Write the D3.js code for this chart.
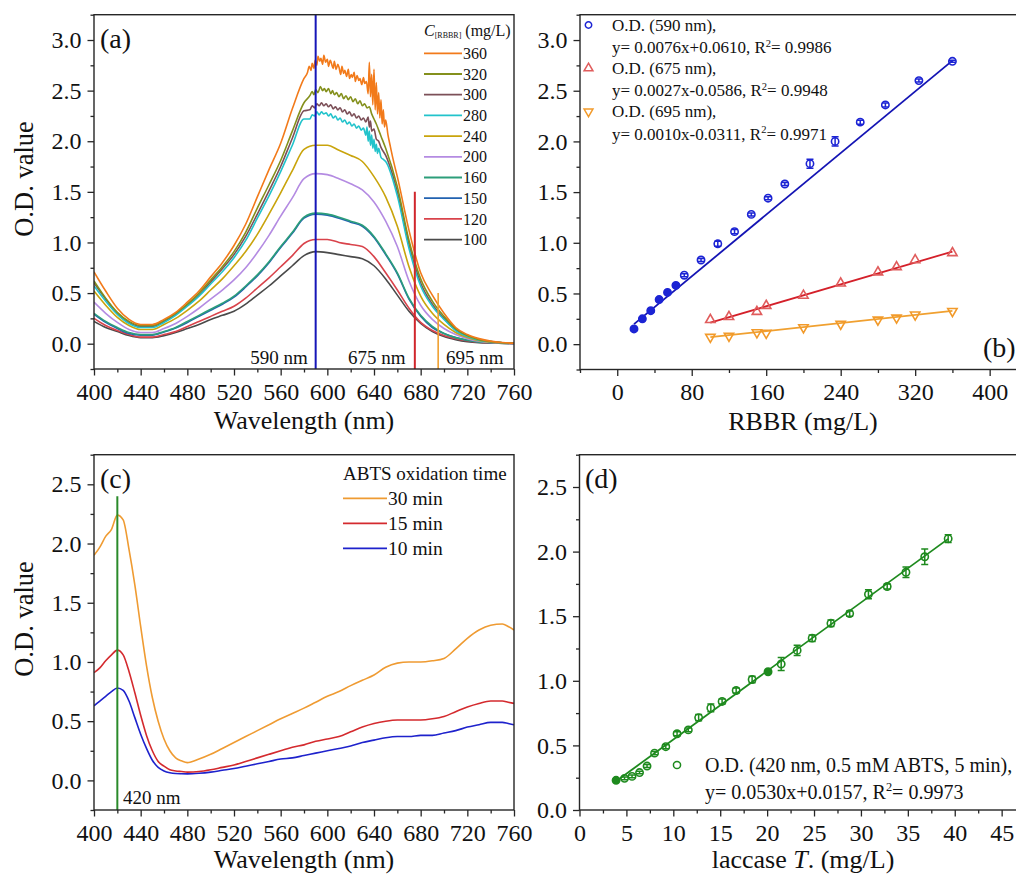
<!DOCTYPE html>
<html><head><meta charset="utf-8">
<script src="https://cdnjs.cloudflare.com/ajax/libs/d3/7.8.5/d3.min.js"></script>
<style>body{margin:0;background:#fff;} svg{display:block;}
svg text{font-family:"Liberation Serif","Times New Roman","DejaVu Serif",serif;}</style>
</head><body>
<script>
// ---------------- DATA ----------------
// Panel (a): absorbance spectra at several RBBR concentrations
const waveA = [400,410,420,430,440,450,460,470,480,490,500,510,520,530,540,550,560,570,580,590,600,610,620,630,640,650,660,670,680,690,700,710,720,730,740,750,760];
const concA = [360,320,300,280,240,200,160,150,120,100];
const od360 = [0.71,0.52,0.35,0.24,0.19,0.19,0.24,0.31,0.41,0.52, 0.66,0.80,0.97,1.18,1.45,1.72,1.98,2.32,2.62,2.78, 2.80,2.74,2.67,2.60,2.50,2.14,1.65,1.12,0.70,0.48, 0.30,0.16,0.09,0.05,0.025,0.012,0.006];
const od320 = [0.62,0.45,0.31,0.22,0.18,0.18,0.23,0.30,0.39,0.50, 0.63,0.76,0.91,1.10,1.34,1.57,1.81,2.10,2.38,2.50, 2.51,2.46,2.41,2.36,2.20,1.93,1.55,1.02,0.64,0.42, 0.27,0.15,0.08,0.04,0.02,0.01,0.005];
const od300 = [0.60,0.44,0.30,0.21,0.17,0.17,0.22,0.29,0.38,0.48, 0.61,0.74,0.88,1.06,1.28,1.51,1.75,2.03,2.30,2.36, 2.37,2.33,2.28,2.24,2.08,1.86,1.50,0.98,0.60,0.39, 0.25,0.14,0.075,0.04,0.02,0.01,0.005];
const od280 = [0.57,0.42,0.29,0.20,0.16,0.16,0.21,0.28,0.37,0.47, 0.59,0.71,0.85,1.02,1.24,1.46,1.70,1.96,2.22,2.28, 2.28,2.24,2.19,2.14,2.00,1.80,1.46,0.94,0.57,0.37, 0.24,0.13,0.07,0.035,0.02,0.01,0.005];
const od240 = [0.52,0.38,0.26,0.18,0.14,0.14,0.19,0.25,0.33,0.42, 0.53,0.64,0.77,0.91,1.08,1.28,1.49,1.71,1.92,1.96, 1.96,1.91,1.86,1.80,1.65,1.45,1.16,0.76,0.47,0.30, 0.19,0.11,0.06,0.03,0.015,0.008,0.004];
const od200 = [0.41,0.30,0.21,0.14,0.11,0.11,0.15,0.20,0.27,0.35, 0.44,0.53,0.63,0.75,0.90,1.07,1.26,1.44,1.63,1.68, 1.67,1.63,1.58,1.52,1.40,1.21,0.96,0.62,0.38,0.24, 0.15,0.09,0.05,0.025,0.012,0.006,0.003];
const od160 = [0.30,0.22,0.16,0.11,0.09,0.09,0.12,0.16,0.22,0.28, 0.34,0.40,0.47,0.57,0.68,0.81,0.96,1.10,1.25,1.29, 1.28,1.25,1.21,1.17,1.06,0.89,0.70,0.45,0.28,0.17, 0.10,0.06,0.035,0.018,0.01,0.005,0.003];
const od150 = [0.29,0.21,0.15,0.10,0.085,0.085,0.115,0.155,0.21,0.27, 0.33,0.39,0.46,0.56,0.67,0.80,0.95,1.09,1.24,1.28, 1.27,1.24,1.20,1.16,1.05,0.88,0.69,0.44,0.27,0.16, 0.10,0.06,0.034,0.017,0.01,0.005,0.003];
const od120 = [0.25,0.18,0.13,0.09,0.065,0.065,0.09,0.12,0.17,0.22, 0.27,0.32,0.37,0.45,0.55,0.65,0.76,0.87,0.99,1.03, 1.03,1.00,0.98,0.96,0.86,0.70,0.53,0.35,0.21,0.13, 0.08,0.05,0.03,0.015,0.008,0.004,0.002];
const od100 = [0.22,0.16,0.12,0.08,0.06,0.06,0.08,0.11,0.15,0.19, 0.24,0.28,0.32,0.39,0.48,0.57,0.67,0.77,0.87,0.91, 0.90,0.88,0.86,0.84,0.77,0.64,0.48,0.32,0.20,0.12, 0.07,0.04,0.02,0.01,0.006,0.003,0.001];
// noisy stretches ([wavelength, O.D.])
const jag360 = [[583,2.68],[584.5,2.74],[586,2.70],[587,2.77],[588.5,2.72],[589.5,2.80],[591,2.75],[592,2.84],[593.5,2.79],[594.5,2.82],[596,2.76],[597,2.85],[598.5,2.78],[600,2.81],[601,2.74],[602.5,2.80],[603.5,2.77],[605,2.72],[606,2.79],[607.5,2.71],[609,2.76],[610,2.73],[611.5,2.66],[612.5,2.74],[614,2.67],[615,2.70],[616.5,2.64],[618,2.71],[619,2.62],[620.5,2.66],[621.5,2.63],[623,2.68],[624,2.59],[625.5,2.65],[627,2.60],[628,2.62],[629.5,2.56],[631,2.63],[632,2.57],[633.5,2.59],[635,2.47],[636,2.78],[637,2.44],[638,2.66],[639,2.36],[640,2.71],[641,2.31],[642,2.58],[643,2.27],[644,2.48],[645,2.23],[646,2.41],[647,2.17],[648,2.31],[649,2.14],[650,2.21],[652,2.06],[654,1.95],[656,1.84]];
const jag320 = [[585,2.45],[587,2.49],[588.5,2.46],[590,2.51],[592,2.48],[594,2.54],[596,2.50],[597.5,2.52],[599,2.49],[601,2.52],[603,2.47],[604.5,2.50],[606,2.46],[608,2.48],[610,2.44],[612,2.47],[614,2.42],[616,2.45],[618,2.41],[620,2.44],[622,2.39],[624,2.42],[626,2.37],[628,2.40],[630,2.35],[632,2.37],[634,2.33],[636,2.34],[638,2.27],[640,2.22],[642,2.17],[644,2.11],[646,2.05]];
const jag300 = [[585,2.31],[587,2.35],[589,2.33],[591,2.37],[593,2.35],[595,2.38],[597,2.35],[599,2.37],[601,2.34],[603,2.36],[605,2.32],[607,2.34],[609,2.31],[611,2.33],[613,2.29],[615,2.31],[617,2.27],[619,2.29],[621,2.25],[623,2.27],[625,2.23],[627,2.25],[629,2.21],[631,2.23],[633,2.19],[635,2.24],[636,2.14],[637,2.20],[638,2.10],[640,2.12],[642,2.02],[644,2.00],[646,1.94]];
const jag280 = [[585,2.22],[587,2.26],[589,2.25],[591,2.29],[593,2.26],[595,2.29],[597,2.27],[599,2.28],[601,2.25],[603,2.27],[605,2.23],[607,2.25],[609,2.21],[611,2.23],[613,2.19],[615,2.21],[617,2.17],[619,2.19],[621,2.15],[623,2.17],[625,2.13],[627,2.15],[629,2.11],[631,2.13],[633,2.06],[634,2.14],[635,2.00],[636,2.10],[637,1.96],[638,2.06],[639,1.93],[640,2.02],[641,1.90],[642,1.97],[643,1.88],[644,1.93],[646,1.84],[648,1.82]];
const markWaves = [590,675,695];
const markTops = [null,1.5,0.5];

// Panel (b): O.D. vs RBBR
const conc590 = [18,27,36,45,54,63,72,90,108,126,144,162,180,207,234,261,288,324,360];
const od590 = [0.15,0.25,0.33,0.44,0.51,0.58,0.68,0.83,0.99,1.11,1.28,1.44,1.58,1.78,2.00,2.19,2.36,2.60,2.79];
const err590 = [0.015,0.015,0.015,0.015,0.015,0.015,0.015,0.015,0.025,0.02,0.015,0.015,0.015,0.045,0.045,0.02,0.02,0.015,0.01];
const solid590 = 6; // first points drawn solid
const conc675 = [100,120,150,160,200,240,280,300,320,360];
const od675 = [0.24,0.27,0.32,0.38,0.48,0.60,0.71,0.76,0.83,0.90];
const conc695 = [100,120,150,160,200,240,280,300,320,360];
const od695 = [0.07,0.08,0.115,0.11,0.165,0.20,0.24,0.26,0.29,0.325];
const fitSlopeB = [0.0076,0.0027,0.0010];
const fitInterceptB = [0.0610,-0.0586,-0.0311];
const legendB = [["O.D. (590 nm),","y= 0.0076x+0.0610, R","= 0.9986"],["O.D. (675 nm),","y= 0.0027x-0.0586, R","= 0.9948"],["O.D. (695 nm),","y= 0.0010x-0.0311, R","= 0.9971"]];

// Panel (c): ABTS spectra
const waveC = [400,405,410,415,420,425,430,435,440,445,450,455,460,465,470,475,480,490,500,510,520,530,540,550,560,570,580,590,600,610,620,630,640,650,660,670,680,690,700,710,720,730,740,750,755,760];
const abts30 = [1.90,1.97,2.06,2.12,2.24,2.20,1.95,1.65,1.30,0.97,0.70,0.50,0.35,0.25,0.19,0.165,0.15,0.18,0.22,0.27,0.32,0.37,0.42,0.47,0.52,0.565,0.61,0.66,0.71,0.75,0.80,0.845,0.89,0.955,0.99,1.00,1.00,1.01,1.03,1.11,1.20,1.27,1.31,1.32,1.30,1.27];
const abts15 = [0.91,0.95,1.01,1.06,1.10,1.06,0.92,0.74,0.55,0.38,0.25,0.16,0.12,0.09,0.08,0.075,0.07,0.075,0.09,0.11,0.13,0.16,0.19,0.22,0.25,0.28,0.30,0.33,0.35,0.37,0.41,0.45,0.48,0.50,0.51,0.51,0.51,0.52,0.54,0.58,0.62,0.65,0.67,0.67,0.66,0.65];
const abts10 = [0.63,0.67,0.71,0.75,0.78,0.76,0.67,0.53,0.39,0.27,0.17,0.11,0.08,0.065,0.058,0.056,0.055,0.06,0.07,0.085,0.10,0.12,0.14,0.16,0.18,0.19,0.21,0.23,0.25,0.27,0.29,0.32,0.34,0.36,0.37,0.37,0.38,0.38,0.40,0.42,0.45,0.47,0.49,0.49,0.48,0.47];
const timeLabels = ["30 min","15 min","10 min"];

// Panel (d): O.D. vs laccase
const lacc = [3.9,4.8,5.6,6.4,7.2,8.0,9.2,10.4,11.6,12.7,14.0,15.2,16.7,18.4,20.1,21.5,23.2,24.8,26.8,28.8,30.8,32.8,34.8,36.8,39.3];
const odLacc = [0.23,0.245,0.26,0.29,0.34,0.44,0.49,0.59,0.62,0.715,0.79,0.84,0.925,1.01,1.07,1.13,1.235,1.33,1.445,1.52,1.67,1.73,1.84,1.96,2.10];
const errLacc = [0.01,0.01,0.01,0.01,0.012,0.012,0.015,0.015,0.015,0.025,0.03,0.02,0.02,0.025,0.01,0.05,0.04,0.025,0.025,0.02,0.035,0.02,0.04,0.06,0.03];
const solidLacc = [0,14];
const fitD = [0.0530,0.0157];

// ticks
const waveTicks = [400,440,480,520,560,600,640,680,720,760];
const waveMinor = [420,460,500,540,580,620,660,700,740];
const odTicksA = [0,0.5,1.0,1.5,2.0,2.5,3.0];
const odMinorA = [-0.25,0.25,0.75,1.25,1.75,2.25,2.75,3.25];
const rbbrTicks = [0,80,160,240,320,400];
const rbbrMinor = [-40,40,120,200,280,360,440];
const odTicksC = [0,0.5,1.0,1.5,2.0,2.5];
const odMinorC = [-0.25,0.25,0.75,1.25,1.75,2.25,2.75];
const laccTicks = [0,5,10,15,20,25,30,35,40,45];
const laccMinor = [2.5,7.5,12.5,17.5,22.5,27.5,32.5,37.5,42.5,47.5];
const odMinorD = [0.25,0.75,1.25,1.75,2.25,2.75];

// ---------------- STYLE ----------------
const colA = {360:'#F27A1A',320:'#84901C',300:'#7C5058',280:'#22C3CB',240:'#C9A40C',200:'#B48BE2',160:'#2C9E7A',150:'#2262B0',120:'#D9434B',100:'#4A4A4A'};
const AXC = '#262626';

const svg = d3.select('body').append('svg').attr('width',1016).attr('height',877).style('background','#fff');

function makePanel(p){
  const x = d3.scaleLinear().domain(p.xDomain).range([p.left,p.right]);
  const y = d3.scaleLinear().domain(p.yDomain).range([p.bottom,p.top]);
  const clipId = 'clip-'+p.id;
  svg.append('clipPath').attr('id',clipId).append('rect')
    .attr('x',p.left).attr('y',p.top).attr('width',p.right-p.left).attr('height',p.bottom-p.top);
  const g = svg.append('g');
  const style = s => { s.select('.domain').remove(); s.attr('font-family',null).attr('font-size',null);
    s.selectAll('.tick line').attr('stroke',AXC).attr('stroke-width',1.3);
    s.selectAll('.tick text').attr('fill','#111').attr('font-size',24); };
  g.append('g').attr('transform',`translate(0,${p.bottom})`)
    .call(d3.axisBottom(x).tickValues(p.xMinor).tickSize(3.5).tickFormat('')).call(style);
  g.append('g').attr('transform',`translate(0,${p.bottom})`)
    .call(d3.axisBottom(x).tickValues(p.xMajor).tickSize(6.5).tickPadding(7).tickFormat(d=>String(d))).call(style);
  g.append('g').attr('transform',`translate(${p.left},0)`)
    .call(d3.axisLeft(y).tickValues(p.yMinor).tickSize(3.5).tickFormat('')).call(style);
  g.append('g').attr('transform',`translate(${p.left},0)`)
    .call(d3.axisLeft(y).tickValues(p.yMajor).tickSize(6.5).tickPadding(6).tickFormat(d3.format('.1f'))).call(style);
  const plot = svg.append('g').attr('clip-path',`url(#${clipId})`);
  return {x,y,plot,p};
}
function frame(P){
  const p=P.p;
  svg.append('rect').attr('x',p.left).attr('y',p.top).attr('width',p.right-p.left).attr('height',p.bottom-p.top)
    .attr('fill','none').attr('stroke',AXC).attr('stroke-width',1.4);
}
function addText(x,y,txt,size,opts={}){
  const t = svg.append('text').attr('x',x).attr('y',y).attr('font-size',size).attr('fill','#111').text(txt);
  if(opts.anchor) t.attr('text-anchor',opts.anchor);
  return t;
}
function fitText(x,y,parts,size){ // parts: [before, after] around superscript 2
  const t = svg.append('text').attr('x',x).attr('y',y).attr('font-size',size).attr('fill','#111');
  t.append('tspan').text(parts[0]);
  t.append('tspan').attr('font-size',size*0.62).attr('dy',-size*0.38).text('2');
  t.append('tspan').attr('dy',size*0.38).text(parts[1]);
  return t;
}
function buildSeries(grid, vals, jag){
  let pts = grid.map((w,i)=>[w,vals[i]]);
  if(jag){ const lo=jag[0][0], hi=jag[jag.length-1][0];
    pts = pts.filter(q=>q[0]<lo||q[0]>hi).concat(jag).sort((a,b)=>a[0]-b[0]); }
  return pts;
}

// ---------------- PANEL A ----------------
const A = makePanel({id:'a',left:94,right:514,top:14.7,bottom:369,xDomain:[400,760],yDomain:[-0.25,3.25],
  xMajor:waveTicks,xMinor:waveMinor,yMajor:odTicksA,yMinor:odMinorA});
const seriesA = {360:buildSeries(waveA,od360,jag360),320:buildSeries(waveA,od320,jag320),300:buildSeries(waveA,od300,jag300),
  280:buildSeries(waveA,od280,jag280),240:buildSeries(waveA,od240),200:buildSeries(waveA,od200),160:buildSeries(waveA,od160),
  150:buildSeries(waveA,od150),120:buildSeries(waveA,od120),100:buildSeries(waveA,od100)};
const lineA = d3.line().x(d=>A.x(d[0])).y(d=>A.y(d[1])).curve(d3.curveMonotoneX);
[100,120,150,160,200,240,300,280,320,360].forEach(c=>{
  A.plot.append('path').attr('d',lineA(seriesA[c])).attr('fill','none').attr('stroke',colA[c]).attr('stroke-width',1.6);
});
const markCols = ['#1616B8','#D0262C','#F0A030'];
markWaves.forEach((w,i)=>{
  const top = markTops[i]===null ? A.y.domain()[1] : markTops[i];
  A.plot.append('line').attr('x1',A.x(w)).attr('x2',A.x(w)).attr('y1',A.y(top)).attr('y2',A.y(-0.25))
    .attr('stroke',markCols[i]).attr('stroke-width',i===2?1.6:2);
});
frame(A);
addText(A.x(590)-8,364,'590 nm',19,{anchor:'end'});
addText(348,364,'675 nm',19);
addText(446,364,'695 nm',19);
addText(100,48,'(a)',28);
// legend a
const tA = svg.append('text').attr('x',424).attr('y',36).attr('font-size',16).attr('fill','#111');
tA.append('tspan').attr('font-style','italic').text('C');
tA.append('tspan').attr('font-size',8).attr('dy',2).text('[RBBR]');
tA.append('tspan').attr('dy',-2).text(' (mg/L)');
concA.forEach((c,i)=>{
  const yy = 53.3 + i*20.7;
  svg.append('line').attr('x1',424).attr('x2',462).attr('y1',yy).attr('y2',yy).attr('stroke',colA[c]).attr('stroke-width',1.8);
  addText(463,yy,String(c),16).attr('dy','0.35em');
});
addText(33,179,'O.D. value',26.5,{anchor:'middle'}).attr('transform','rotate(-90,33,179)');
addText(304,429,'Wavelength (nm)',26,{anchor:'middle'});

// ---------------- PANEL B ----------------
const B = makePanel({id:'b',left:580,right:1026.9,top:14.7,bottom:369.5,xDomain:[-40,440],yDomain:[-0.25,3.25],
  xMajor:rbbrTicks,xMinor:rbbrMinor,yMajor:odTicksA,yMinor:odMinorA});
const colB = {m:['#1C24D4','#E05C5C','#F29A2A'], l:['#1414B4','#D4202A','#F0A030']};
const setsB = [[conc590,od590,err590],[conc675,od675,null],[conc695,od695,null]];
setsB.forEach((s,k)=>{
  const [xs,ys] = s; const x0=d3.min(xs), x1=d3.max(xs);
  B.plot.append('line').attr('x1',B.x(x0)).attr('x2',B.x(x1))
    .attr('y1',B.y(fitSlopeB[k]*x0+fitInterceptB[k])).attr('y2',B.y(fitSlopeB[k]*x1+fitInterceptB[k]))
    .attr('stroke',colB.l[k]).attr('stroke-width',1.8);
});
const sym = (type,size)=>d3.symbol().type(type).size(size)();
setsB.forEach((s,k)=>{
  const [xs,ys,es] = s;
  xs.forEach((xv,i)=>{
    const cx=B.x(xv), cy=B.y(ys[i]);
    if(es){ const e=es[i];
      B.plot.append('path').attr('d',`M${cx},${B.y(ys[i]+e)}V${B.y(ys[i]-e)}M${cx-3.5},${B.y(ys[i]+e)}H${cx+3.5}M${cx-3.5},${B.y(ys[i]-e)}H${cx+3.5}`)
        .attr('stroke',colB.m[k]).attr('stroke-width',1.5).attr('fill','none');
    }
    B.plot.append('path').attr('transform',`translate(${cx},${cy})${k===2?' rotate(180)':''}`)
      .attr('d', k===0 ? sym(d3.symbolCircle,42) : sym(d3.symbolTriangle,38))
      .attr('fill', (k===0 && i<solid590) ? colB.m[k] : 'none').attr('stroke',colB.m[k]).attr('stroke-width',1.6);
  });
});
frame(B);
addText(983,356.5,'(b)',28);
legendB.forEach((lines,k)=>{
  const by = 30.5 + k*43.3;
  svg.append('path').attr('transform',`translate(588.5,${by-5.5})${k===2?' rotate(180)':''}`)
    .attr('d', k===0 ? sym(d3.symbolCircle,32) : sym(d3.symbolTriangle,34))
    .attr('fill','none').attr('stroke',colB.m[k]).attr('stroke-width',1.5);
  addText(612,by,lines[0],17);
  fitText(612,by+22.5,[lines[1],lines[2]],17);
});
addText(803,430,'RBBR (mg/L)',26,{anchor:'middle'});

// ---------------- PANEL C ----------------
const C = makePanel({id:'c',left:94,right:514,top:454.7,bottom:810,xDomain:[400,760],yDomain:[-0.25,2.75],
  xMajor:waveTicks,xMinor:waveMinor,yMajor:odTicksC,yMinor:odMinorC});
const colC = ['#EF9B32','#D42A2E','#1E22CC'];
const lineC = d3.line().x(d=>C.x(d[0])).y(d=>C.y(d[1])).curve(d3.curveMonotoneX);
[abts10,abts15,abts30].forEach((vals,i)=>{
  const ci = 2-i;
  C.plot.append('path').attr('d',lineC(buildSeries(waveC,vals))).attr('fill','none').attr('stroke',colC[ci]).attr('stroke-width',1.6);
});
C.plot.append('line').attr('x1',C.x(420)).attr('x2',C.x(420)).attr('y1',C.y(2.4)).attr('y2',C.y(-0.25))
  .attr('stroke','#2A8A2A').attr('stroke-width',2);
frame(C);
addText(123,804,'420 nm',19);
addText(100,488,'(c)',28);
addText(343,480,'ABTS oxidation time',19);
timeLabels.forEach((t,i)=>{
  const yy = 498.3 + i*25;
  svg.append('line').attr('x1',343).attr('x2',387).attr('y1',yy).attr('y2',yy).attr('stroke',colC[i]).attr('stroke-width',1.8);
  addText(388,yy,t,19.5).attr('dy','0.35em');
});
addText(33,619,'O.D. value',26.5,{anchor:'middle'}).attr('transform','rotate(-90,33,619)');
addText(304,868,'Wavelength (nm)',26,{anchor:'middle'});

// ---------------- PANEL D ----------------
const D = makePanel({id:'d',left:579.5,right:1025.1,top:454.7,bottom:810,xDomain:[0,47.5],yDomain:[0,2.75],
  xMajor:laccTicks,xMinor:laccMinor,yMajor:odTicksC,yMinor:odMinorD});
const gD = '#1E8A1E';
{ const x0=d3.min(lacc), x1=d3.max(lacc);
  D.plot.append('line').attr('x1',D.x(x0)).attr('x2',D.x(x1)).attr('y1',D.y(fitD[0]*x0+fitD[1])).attr('y2',D.y(fitD[0]*x1+fitD[1]))
    .attr('stroke',gD).attr('stroke-width',1.8); }
lacc.forEach((xv,i)=>{
  const cx=D.x(xv), cy=D.y(odLacc[i]), e=errLacc[i];
  D.plot.append('path').attr('d',`M${cx},${D.y(odLacc[i]+e)}V${D.y(odLacc[i]-e)}M${cx-3.5},${D.y(odLacc[i]+e)}H${cx+3.5}M${cx-3.5},${D.y(odLacc[i]-e)}H${cx+3.5}`)
    .attr('stroke',gD).attr('stroke-width',1.5).attr('fill','none');
  D.plot.append('path').attr('transform',`translate(${cx},${cy})`).attr('d',sym(d3.symbolCircle,42))
    .attr('fill',solidLacc.includes(i)?gD:'none').attr('stroke',gD).attr('stroke-width',1.6);
});
frame(D);
addText(585,488,'(d)',28);
svg.append('path').attr('transform','translate(677,765)').attr('d',sym(d3.symbolCircle,40))
  .attr('fill','none').attr('stroke',gD).attr('stroke-width',1.5);
addText(705,772,'O.D. (420 nm, 0.5 mM ABTS, 5 min),',20);
fitText(705,799,['y= 0.0530x+0.0157, R','= 0.9973'],20);
{ const t = svg.append('text').attr('x',803).attr('y',868).attr('font-size',26).attr('fill','#111').attr('text-anchor','middle');
  t.append('tspan').text('laccase ');
  t.append('tspan').attr('font-style','italic').text('T');
  t.append('tspan').text('. (mg/L)'); }
</script>
</body></html>
